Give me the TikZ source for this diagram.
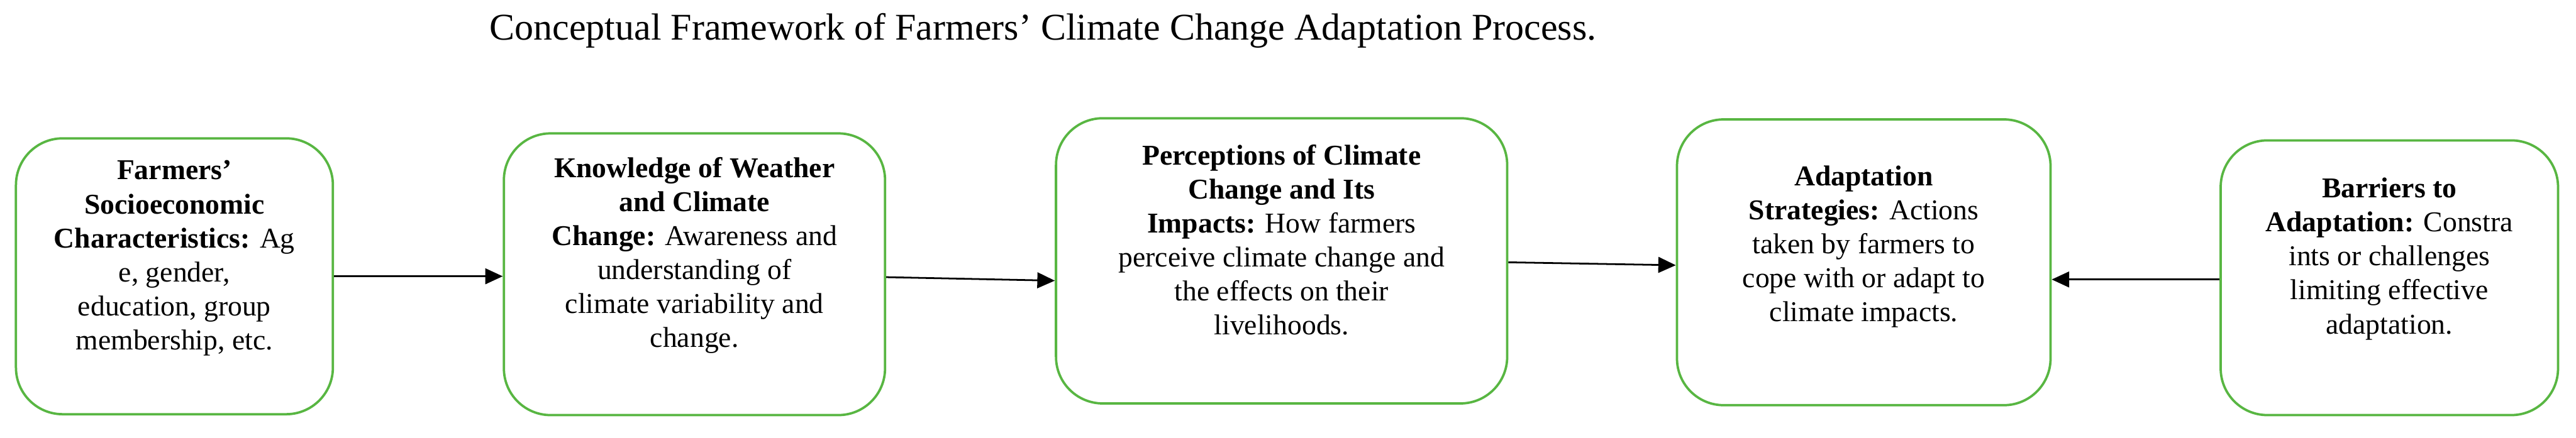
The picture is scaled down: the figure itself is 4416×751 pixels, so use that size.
\documentclass[tikz,border=0pt]{standalone}
\usepackage{fontspec}
\setmainfont{Liberation Serif}
\usetikzlibrary{arrows.meta,calc}
\definecolor{boxgreen}{RGB}{88,182,66}
\begin{document}
\begin{tikzpicture}[x=0.01cm,y=-0.01cm,
  box/.style={draw=boxgreen, line width=1.15pt, rounded corners=0.8cm, fill=white, inner sep=0pt},
  txt/.style={align=center, font=\fontsize{14}{16.6}\selectfont, inner sep=0pt},
  arr/.style={draw=black, line width=0.85pt, -{Triangle[length=0.3cm,width=0.27cm]}}
]
\useasboundingbox (0,0) rectangle (4416,751);
\node[font=\fontsize{18.4}{22}\selectfont, inner sep=0pt, anchor=base] (title) at (1788,68) {Conceptual Framework of Farmers’ Climate Change Adaptation Process.};

\node[box, minimum width=5.43cm, minimum height=4.73cm] (b1) at (299,474) {};
\node[box, minimum width=6.53cm, minimum height=4.83cm] (b2) at (1190.5,470.5) {};
\node[box, minimum width=7.73cm, minimum height=4.89cm] (b3) at (2197,447.5) {};
\node[box, minimum width=6.40cm, minimum height=4.90cm] (b4) at (3195,450) {};
\node[box, minimum width=5.78cm, minimum height=4.71cm] (b5) at (4096,476.5) {};

\node[txt] (t1) at (299,443) {\textbf{Farmers’}\\ \textbf{Socioeconomic}\\ \textbf{Characteristics:} Ag\\ e, gender,\\ education, group\\ membership, etc.};
\node[txt] (t2) at (1190.5,438) {\textbf{Knowledge of Weather}\\ \textbf{and Climate}\\ \textbf{Change:} Awareness and\\ understanding of\\ climate variability and\\ change.};
\node[txt] (t3) at (2197,411.5) {\textbf{Perceptions of Climate}\\ \textbf{Change and Its}\\ \textbf{Impacts:} How farmers\\ perceive climate change and\\ the effects on their\\ livelihoods.};
\node[txt] (t4) at (3195,423) {\textbf{Adaptation}\\ \textbf{Strategies:} Actions\\ taken by farmers to\\ cope with or adapt to\\ climate impacts.};
\node[txt] (t5) at (4096,444) {\textbf{Barriers to}\\ \textbf{Adaptation:} Constra\\ ints or challenges\\ limiting effective\\ adaptation.};

\draw[arr] (b1.east) -- (b2.west |- b1.east);
\draw[arr] ($(b2.east)+(0,5)$) -- ($(b3.west |- b2.east)+(0,11)$);
\draw[arr] ($(b3.east)+(0,2.5)$) -- ($(b4.west |- b3.east)+(0,7.5)$);
\draw[arr] ($(b5.west)+(0,3)$) -- ($(b4.east |- b5.west)+(0,3)$);
\end{tikzpicture}
\end{document}
